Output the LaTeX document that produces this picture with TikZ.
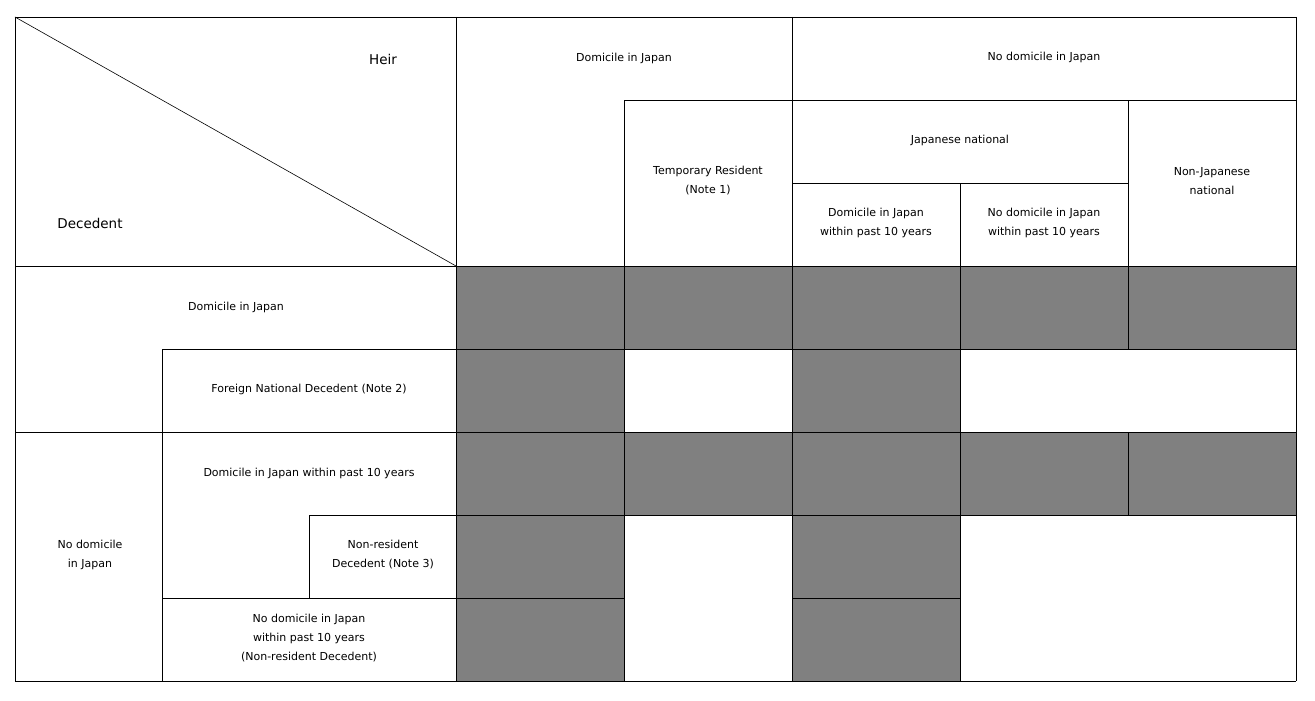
\documentclass[tikz,border=0pt]{standalone}
\usepackage{fontspec}
\setmainfont{DejaVu Sans}
\begin{document}
\begin{tikzpicture}[x=1pt,y=-1pt,
  grid/.style={draw=black,line width=0.7pt},
  shade/.style={fill=black!50,draw=black,line width=0.7pt},
  lbl/.style={font=\fontsize{11}{19}\selectfont,align=center,inner sep=0pt},
  big/.style={font=\fontsize{13.5}{16}\selectfont,inner sep=0pt}]
\useasboundingbox (0,0) rectangle (1315,701);
% grey cells
\foreach \x in {456,624,792,960,1128}{\draw[shade] (\x,266) rectangle ++(168,83);}
\foreach \x in {456,624,792,960,1128}{\draw[shade] (\x,432) rectangle ++(168,83);}
\foreach \x in {456,792}{\draw[shade] (\x,349) rectangle ++(168,83);
  \draw[shade] (\x,515) rectangle ++(168,83);
  \draw[shade] (\x,598) rectangle ++(168,83);}
% horizontal lines
\draw[grid] (15,17) -- (1296,17);
\draw[grid] (624,100) -- (1296,100);
\draw[grid] (792,183) -- (1128,183);
\draw[grid] (15,266) -- (1296,266);
\draw[grid] (162,349) -- (1296,349);
\draw[grid] (15,432) -- (1296,432);
\draw[grid] (309,515) -- (1296,515);
\draw[grid] (162,598) -- (624,598);
\draw[grid] (15,681) -- (1296,681);
% vertical lines
\draw[grid] (15,17) -- (15,681);
\draw[grid] (162,349) -- (162,681);
\draw[grid] (309,515) -- (309,598);
\draw[grid] (456,17) -- (456,681);
\draw[grid] (624,100) -- (624,681);
\draw[grid] (792,17) -- (792,681);
\draw[grid] (960,183) -- (960,681);
\draw[grid] (1128,100) -- (1128,349);
\draw[grid] (1128,432) -- (1128,515);
\draw[grid] (1296,17) -- (1296,681);
% diagonal
\coordinate (dA) at (15,17); \coordinate (dB) at (456,266);
\draw[line width=0.6pt] (dA) -- (dB);
% texts
\node[big] (heir) at (383,59) {Heir};
\node[big] (dec) at (90,223) {Decedent};
\node[lbl] (h1) at (624,58) {Domicile in Japan};
\node[lbl] (h2) at (1044,57) {No domicile in Japan};
\node[lbl] (h3) at (708,181) {Temporary Resident\\(Note 1)};
\node[lbl] (h4) at (960,140) {Japanese national};
\node[lbl] (h5) at (1212,181) {Non-Japanese\\national};
\node[lbl] (h6) at (876,223) {Domicile in Japan\\within past 10 years};
\node[lbl] (h7) at (1044,223) {No domicile in Japan\\within past 10 years};
\node[lbl] (r1) at (236,307) {Domicile in Japan};
\node[lbl] (r2) at (309,389) {Foreign National Decedent (Note 2)};
\node[lbl] (r3) at (90,555) {No domicile\\in Japan};
\node[lbl] (r4) at (309,473) {Domicile in Japan within past 10 years};
\node[lbl] (r5) at (383,555) {Non-resident\\Decedent (Note 3)};
\node[lbl] (r6) at (309,638) {No domicile in Japan\\within past 10 years\\(Non-resident Decedent)};
\end{tikzpicture}
\end{document}
